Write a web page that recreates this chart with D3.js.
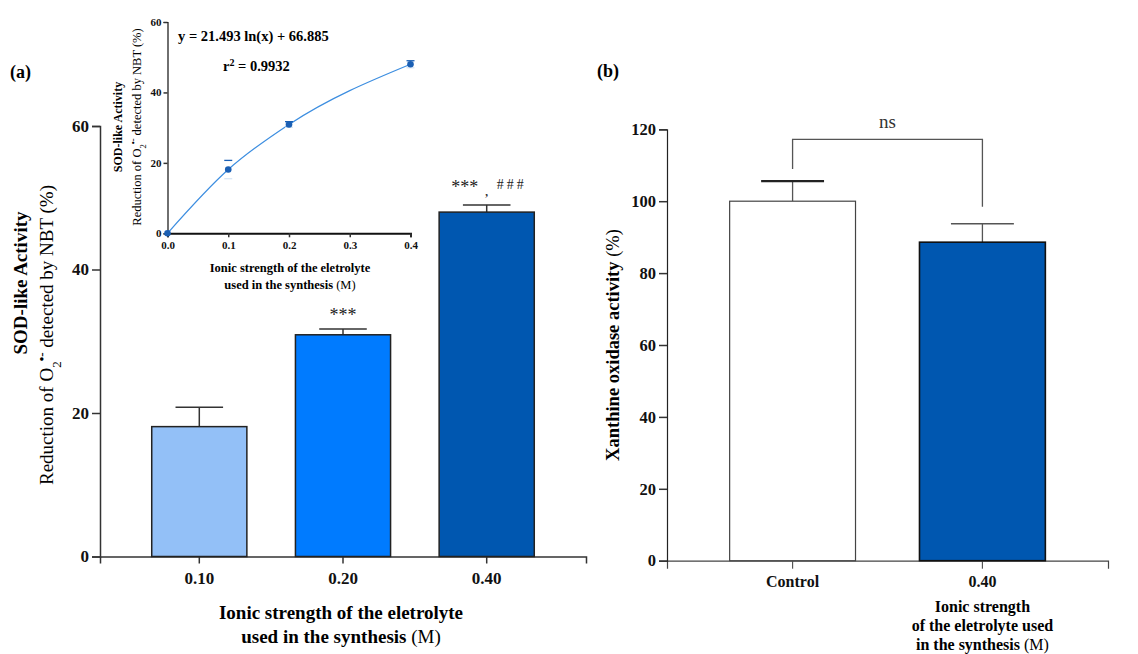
<!DOCTYPE html>
<html><head><meta charset="utf-8">
<script src="https://cdn.jsdelivr.net/npm/d3@7"></script>
<style>
body{margin:0;background:#fff}
text{font-family:"Liberation Serif","Times New Roman",serif}
</style></head><body>
<svg id="c" width="1138" height="654"></svg>
<script>
// ---- data ----
const catsA = ["0.10","0.20","0.40"];
const meanA = [18.1, 30.9, 48.0];
const errA  = [2.7, 0.8, 1.0];
const colorsA = ["#93c0f7","#007bff","#0057b0"];
const sigA = ["", "***", "***"];
const sigA2 = ["", "", "###"];
const ticksA = [0,20,40,60];

const insetX = [0, 0.1, 0.2, 0.4];
const insetY = [0, 18.1, 30.9, 48.0];
const insetErr = [0, 2.6, 0.8, 1.0];
const insetXTicks = [0,0.1,0.2,0.3,0.4];
const insetYTicks = [0,20,40,60];

const catsB = ["Control","0.40"];
const meanB = [100, 88.6];
const errB  = [5.6, 5.1];
const colorsB = ["#ffffff","#0057b0"];
const ticksB = [0,20,40,60,80,100,120];

const svg = d3.select("#c");

function styleAxis(g, fs){
  g.selectAll("path.domain").attr("stroke","#333").attr("stroke-width",1.5);
  g.selectAll(".tick line").attr("stroke","#333").attr("stroke-width",1.5);
  g.selectAll(".tick text").attr("fill","#111").attr("font-weight","bold")
    .attr("font-size",fs).attr("font-family","Liberation Serif");
}

// ================= Panel (a) =================
const xA = d3.scaleBand().domain(catsA).range([100,586]).paddingInner(0.338).paddingOuter(0.36);
const yA = d3.scaleLinear().domain([0,60]).range([556.5,126]);

const gxA = svg.append("g").attr("transform","translate(0,556.5)")
  .call(d3.axisBottom(xA).tickSizeOuter(0).tickSize(7).tickPadding(8));
styleAxis(gxA,17);
const gyA = svg.append("g").attr("transform","translate(100,0)")
  .call(d3.axisLeft(yA).tickValues(ticksA).tickSizeOuter(0).tickSize(8).tickPadding(3));
styleAxis(gyA,17);

const barsA = svg.append("g");
catsA.forEach((c,i)=>{
  const x0 = xA(c), bw = xA.bandwidth(), cx = x0 + bw/2;
  barsA.append("line").attr("x1",cx).attr("x2",cx).attr("y1",yA(meanA[i])).attr("y2",yA(meanA[i]+errA[i]))
    .attr("stroke","#333").attr("stroke-width",1.5);
  barsA.append("line").attr("x1",cx-bw/4).attr("x2",cx+bw/4).attr("y1",yA(meanA[i]+errA[i])).attr("y2",yA(meanA[i]+errA[i]))
    .attr("stroke","#333").attr("stroke-width",1.5);
  barsA.append("rect").attr("x",x0).attr("y",yA(meanA[i])).attr("width",bw).attr("height",yA(0)-yA(meanA[i]))
    .attr("fill",colorsA[i]).attr("stroke","#222").attr("stroke-width",1.5);
});
// significance markers
svg.append("text").attr("x",xA("0.20")+xA.bandwidth()/2).attr("y",yA(meanA[1]+errA[1])-8)
  .attr("text-anchor","middle").attr("font-size",18).attr("fill","#222").text(sigA[1]);
svg.append("text").attr("x",xA("0.40")+xA.bandwidth()/2-22).attr("y",yA(meanA[2]+errA[2])-12)
  .attr("text-anchor","middle").attr("font-size",18).attr("fill","#222").text(sigA[2]);
svg.append("text").attr("x",xA("0.40")+xA.bandwidth()/2).attr("y",yA(meanA[2]+errA[2])-9)
  .attr("text-anchor","middle").attr("font-size",15).attr("fill","#222").text(",");
svg.append("text").attr("x",xA("0.40")+xA.bandwidth()/2+25).attr("y",yA(meanA[2]+errA[2])-16)
  .attr("text-anchor","middle").attr("font-size",14).attr("fill","#222").attr("letter-spacing",3).text(sigA2[2]);

// axis titles (a)
svg.append("text").attr("x",10).attr("y",78).attr("font-size",18).attr("font-weight","bold").text("(a)");
svg.append("text").attr("transform","translate(27,283) rotate(-90)").attr("text-anchor","middle")
  .attr("font-size",19).attr("font-weight","bold").text("SOD-like Activity");
const redA = svg.append("text").attr("transform","translate(53,335) rotate(-90)").attr("text-anchor","middle")
  .attr("font-size",19);
redA.append("tspan").text("Reduction of O");
redA.append("tspan").attr("baseline-shift","sub").attr("font-size",13).text("2");
redA.append("tspan").attr("baseline-shift","super").attr("font-size",13).attr("font-weight","bold").text("•-");
redA.append("tspan").text(" detected by NBT (%)");

const xtA = svg.append("text").attr("text-anchor","middle").attr("font-size",19).attr("font-weight","bold");
xtA.append("tspan").attr("x",341).attr("y",619).text("Ionic strength of the eletrolyte");
const l2 = xtA.append("tspan").attr("x",341).attr("y",643);
l2.append("tspan").text("used in the synthesis ");
l2.append("tspan").attr("font-weight","normal").text("(M)");

// ================= Inset =================
const xI = d3.scaleLinear().domain([0,0.4]).range([167.5,410.5]);
const yI = d3.scaleLinear().domain([0,60]).range([233.3,22]);
const gxI = svg.append("g").attr("transform","translate(0,233.3)")
  .call(d3.axisBottom(xI).tickValues(insetXTicks).tickFormat(d3.format(".1f")).tickSizeOuter(0).tickSize(4).tickPadding(4));
styleAxis(gxI,11);
gxI.selectAll("path.domain").attr("stroke-width",2).attr("stroke","#111");
const gyI = svg.append("g").attr("transform","translate(167.5,0)")
  .call(d3.axisLeft(yI).tickValues(insetYTicks).tickSizeOuter(0).tickSize(4).tickPadding(2));
styleAxis(gyI,11);
gyI.selectAll("path.domain").attr("stroke-width",1.2).attr("stroke","#111");

const lineI = d3.line().x((d,i)=>xI(insetX[i])).y((d,i)=>yI(insetY[i])).curve(d3.curveMonotoneX);
svg.append("path").attr("d",lineI(insetY)).attr("fill","none").attr("stroke","#3d8ee0").attr("stroke-width",1.2);
insetX.forEach((xv,i)=>{
  if(insetErr[i]>0){
    const cx = xI(xv);
    [insetY[i]+insetErr[i], insetY[i]-insetErr[i]].forEach((v,k)=>{
      svg.append("line").attr("x1",cx-4).attr("x2",cx+4).attr("y1",yI(v)).attr("y2",yI(v))
        .attr("stroke", k===0 ? "#1a5fb4" : "#d7e6f5").attr("stroke-width",1.3);
    });
  }
  svg.append("circle").attr("cx",xI(xv)).attr("cy",yI(insetY[i])).attr("r",3.3).attr("fill","#1a5fb4");
});
svg.append("text").attr("x",178).attr("y",41).attr("font-size",14.5).attr("font-weight","bold")
  .text("y = 21.493 ln(x) + 66.885");
const r2 = svg.append("text").attr("x",223).attr("y",71).attr("font-size",14.5).attr("font-weight","bold");
r2.append("tspan").text("r");
r2.append("tspan").attr("baseline-shift","super").attr("font-size",10).text("2");
r2.append("tspan").text(" = 0.9932");

svg.append("text").attr("transform","translate(122,127) rotate(-90)").attr("text-anchor","middle")
  .attr("font-size",12).attr("font-weight","bold").text("SOD-like Activity");
const redI = svg.append("text").attr("transform","translate(141,127) rotate(-90)").attr("text-anchor","middle")
  .attr("font-size",12.5);
redI.append("tspan").text("Reduction of O");
redI.append("tspan").attr("baseline-shift","sub").attr("font-size",8.5).text("2");
redI.append("tspan").attr("baseline-shift","super").attr("font-size",8.5).attr("font-weight","bold").text("•-");
redI.append("tspan").text(" detected by NBT (%)");
const xtI = svg.append("text").attr("text-anchor","middle").attr("font-size",12.5).attr("font-weight","bold");
xtI.append("tspan").attr("x",290).attr("y",272).text("Ionic strength of the eletrolyte");
const li2 = xtI.append("tspan").attr("x",290).attr("y",289);
li2.append("tspan").text("used in the synthesis ");
li2.append("tspan").attr("font-weight","normal").text("(M)");

// ================= Panel (b) =================
const xB = d3.scaleBand().domain(catsB).range([667,1108]).paddingInner(0.337).paddingOuter(0.33);
const yB = d3.scaleLinear().domain([0,120]).range([560.7,129.3]);

const gxB = svg.append("g").attr("transform","translate(0,560.7)")
  .call(d3.axisBottom(xB).tickSizeOuter(0).tickSize(8).tickPadding(7));
styleAxis(gxB,16);
gxB.selectAll("path.domain").attr("stroke-width",1.2).attr("stroke","#444");
gxB.selectAll(".tick line").attr("stroke-width",1.2).attr("stroke","#555");
const gyB = svg.append("g").attr("transform","translate(667,0)")
  .call(d3.axisLeft(yB).tickValues(ticksB).tickSizeOuter(0).tickSize(8).tickPadding(3));
styleAxis(gyB,16.5);
gyB.selectAll("path.domain").attr("stroke-width",1.2).attr("stroke","#222");

catsB.forEach((c,i)=>{
  const x0 = xB(c), bw = xB.bandwidth(), cx = x0+bw/2;
  svg.append("line").attr("x1",cx).attr("x2",cx).attr("y1",yB(meanB[i])).attr("y2",yB(meanB[i]+errB[i]))
    .attr("stroke","#555").attr("stroke-width",1.3);
  svg.append("line").attr("x1",cx-bw/4).attr("x2",cx+bw/4).attr("y1",yB(meanB[i]+errB[i])).attr("y2",yB(meanB[i]+errB[i]))
    .attr("stroke", i===0 ? "#222" : "#555").attr("stroke-width", i===0 ? 2.2 : 1.5);
  svg.append("rect").attr("x",x0).attr("y",yB(meanB[i])).attr("width",bw).attr("height",yB(0)-yB(meanB[i]))
    .attr("fill",colorsB[i]).attr("stroke", i===0 ? "#444" : "#111").attr("stroke-width", i===0 ? 1.2 : 1.6);
});
// ns bracket
const cx0 = xB("Control")+xB.bandwidth()/2, cx1 = xB("0.40")+xB.bandwidth()/2;
const yBr = 139.3;
svg.append("path").attr("d",`M${cx0},169 V${yBr} H${cx1} V206.7`).attr("fill","none")
  .attr("stroke","#555").attr("stroke-width",1.3);
svg.append("text").attr("x",(cx0+cx1)/2).attr("y",128).attr("text-anchor","middle")
  .attr("font-size",19).attr("fill","#333").text("ns");

svg.append("text").attr("x",597).attr("y",77).attr("font-size",18).attr("font-weight","bold").text("(b)");
const ytB = svg.append("text").attr("transform","translate(619,345) rotate(-90)").attr("text-anchor","middle")
  .attr("font-size",18.5).attr("font-weight","bold");
ytB.append("tspan").text("Xanthine oxidase activity ");
ytB.append("tspan").attr("font-weight","normal").text("(%)");

const xtB = svg.append("text").attr("text-anchor","middle").attr("font-size",16).attr("font-weight","bold");
xtB.append("tspan").attr("x",cx1).attr("y",612).text("Ionic strength");
xtB.append("tspan").attr("x",cx1).attr("y",631).text("of the eletrolyte used");
const lb3 = xtB.append("tspan").attr("x",cx1).attr("y",650);
lb3.append("tspan").text("in the synthesis ");
lb3.append("tspan").attr("font-weight","normal").text("(M)");
</script>
</body></html>
